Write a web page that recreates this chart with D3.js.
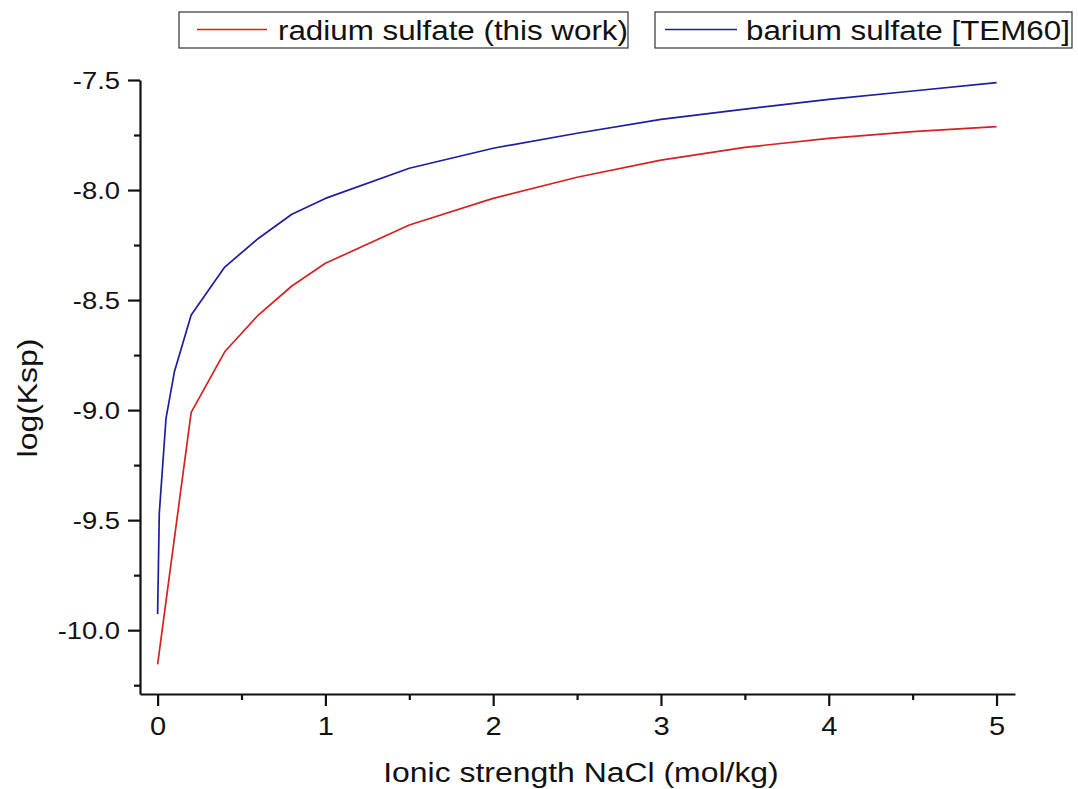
<!DOCTYPE html>
<html>
<head>
<meta charset="utf-8">
<script src="https://cdn.jsdelivr.net/npm/d3@7"></script>
<style>
html,body{margin:0;padding:0;background:#fff;}
svg{display:block;}
text{font-family:Arial,"Liberation Sans",Helvetica,sans-serif;fill:#111;}
</style>
</head>
<body>
<svg id="chart" width="1078" height="789"></svg>
<script>
// ---- data ----
const radiumX = [0, 0.2, 0.4, 0.6, 0.8, 1.0, 1.5, 2.0, 2.5, 3.0, 3.5, 4.0, 4.5, 5.0];
const radiumY = [-10.155, -9.01, -8.735, -8.568, -8.436, -8.333, -8.159, -8.038, -7.942, -7.864, -7.806, -7.765, -7.735, -7.712];
const bariumX = [0, 0.01, 0.05, 0.1, 0.2, 0.4, 0.6, 0.8, 1.0, 1.5, 2.0, 2.5, 3.0, 3.5, 4.0, 4.5, 5.0];
const bariumY = [-9.927, -9.468, -9.038, -8.826, -8.568, -8.35, -8.22, -8.11, -8.038, -7.901, -7.81, -7.742, -7.679, -7.632, -7.588, -7.55, -7.512];
const xTickValues = [0, 1, 2, 3, 4, 5];
const xMinorValues = [0.5, 1.5, 2.5, 3.5, 4.5];
const yTickValues = [-7.5, -8.0, -8.5, -9.0, -9.5, -10.0];
const yMinorValues = [-7.75, -8.25, -8.75, -9.25, -9.75, -10.25];
const seriesNames = ["radium sulfate (this work)", "barium sulfate [TEM60]"];
const xTitle = "Ionic strength NaCl (mol/kg)";
const yTitle = "log(Ksp)";

// ---- layout ----
const SX = 1.14; // horizontal glyph stretch seen in the reference
const colors = ["#d42222", "#1e1e9e"];
const svg = d3.select("#chart");
const x = d3.scaleLinear().domain([-0.105, 5.11]).range([140, 1015]);
const y = d3.scaleLinear().domain([-10.29, -7.5]).range([694, 80]);
const fmtY = d => d.toFixed(1).replace("\u2212", "-");

// axes
const gx = svg.append("g").attr("transform", "translate(0,694)");
gx.call(d3.axisBottom(x).tickValues(xTickValues).tickSize(12).tickFormat(d => String(d)).tickSizeOuter(0));
const gxm = svg.append("g").attr("transform", "translate(0,694)");
gxm.call(d3.axisBottom(x).tickValues(xMinorValues).tickSize(6).tickFormat("").tickSizeOuter(0));
gxm.select(".domain").remove();

const gy = svg.append("g").attr("transform", "translate(140,0)");
gy.call(d3.axisLeft(y).tickValues(yTickValues).tickSize(12).tickFormat(fmtY).tickSizeOuter(0));
const gym = svg.append("g").attr("transform", "translate(140,0)");
gym.call(d3.axisLeft(y).tickValues(yMinorValues).tickSize(6).tickFormat("").tickSizeOuter(0));
gym.select(".domain").remove();

svg.selectAll(".domain").attr("stroke", "#111").attr("stroke-width", 2.2);
svg.selectAll(".tick line").attr("stroke", "#111").attr("stroke-width", 2.2);

gx.selectAll(".tick text")
  .attr("font-size", 25.5).attr("font-family", "Arial, 'Liberation Sans', sans-serif")
  .attr("fill", "#111").attr("y", 0).attr("dy", 0)
  .attr("transform", `translate(0,41) scale(${SX},1)`);
gy.selectAll(".tick text")
  .attr("font-size", 24).attr("font-family", "Arial, 'Liberation Sans', sans-serif")
  .attr("fill", "#111").attr("x", 0).attr("dy", "0.36em")
  .attr("transform", `translate(-20,0) scale(${SX},1)`);

// lines
const line = d3.line().x(d => x(d[0])).y(d => y(d[1]));
const series = [
  d3.zip(radiumX, radiumY),
  d3.zip(bariumX, bariumY)
];
series.forEach((s, i) => {
  svg.append("path").datum(s).attr("d", line)
    .attr("fill", "none").attr("stroke", colors[i]).attr("stroke-width", 1.7)
    .attr("stroke-linejoin", "round");
});

// axis titles
svg.append("text").text(xTitle)
  .attr("text-anchor", "middle").attr("font-size", 28)
  .attr("transform", `translate(581,782) scale(${SX},1)`);
svg.append("text").text(yTitle)
  .attr("text-anchor", "middle").attr("font-size", 28)
  .attr("transform", `translate(37,398) rotate(-90) scale(${SX},1)`);

// legend
const legendBoxes = [
  {x0: 179, x1: 628, lx0: 197, lx1: 267, tx: 278},
  {x0: 655, x1: 1072, lx0: 665, lx1: 737, tx: 746}
];
legendBoxes.forEach((b, i) => {
  const g = svg.append("g");
  g.append("rect").attr("x", b.x0).attr("y", 12).attr("width", b.x1 - b.x0).attr("height", 36)
    .attr("fill", "#fff").attr("stroke", "#333").attr("stroke-width", 1.2);
  g.append("line").attr("x1", b.lx0).attr("x2", b.lx1).attr("y1", 29.5).attr("y2", 29.5)
    .attr("stroke", colors[i]).attr("stroke-width", 1.7);
  g.append("text").text(seriesNames[i]).attr("font-size", 27.5)
    .attr("transform", `translate(${b.tx},40) scale(${SX},1)`);
});
</script>
</body>
</html>
